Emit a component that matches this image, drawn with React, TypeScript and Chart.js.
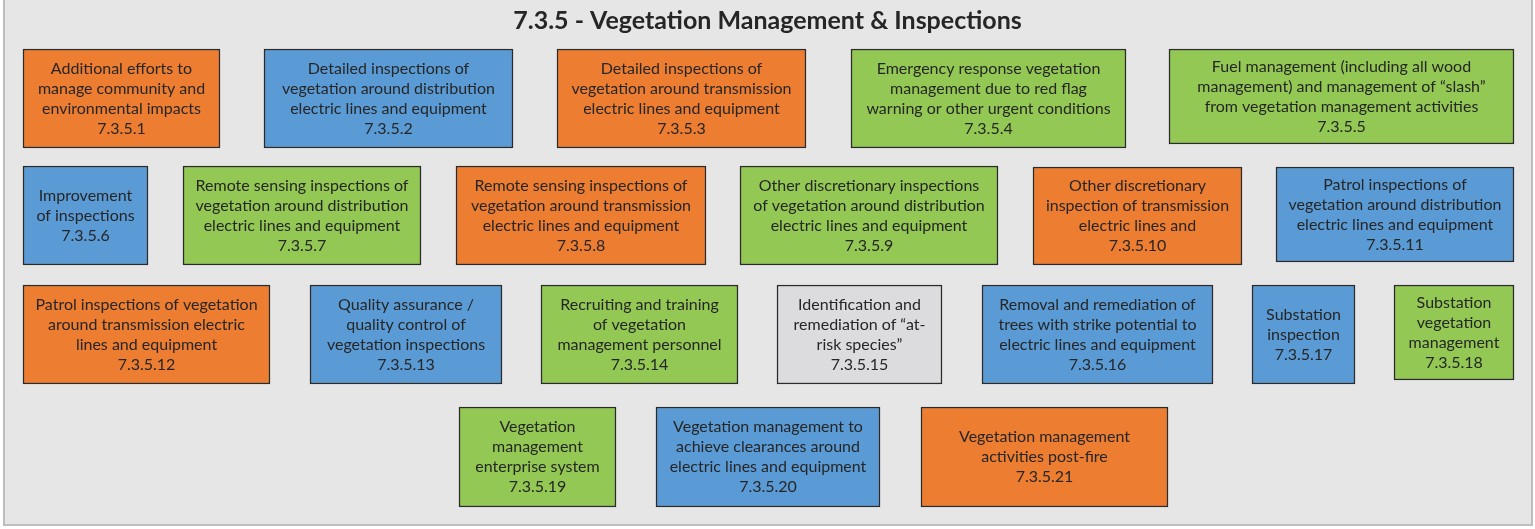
import React, { useEffect, useRef } from "react";
import { Chart, registerables } from "chart.js";

Chart.register(...registerables);

const chartTitle = "7.3.5 - Vegetation Management & Inspections";

const boxLabels: string[] = [
  "Additional efforts to\nmanage community and\nenvironmental impacts",
  "Detailed inspections of\nvegetation around distribution\nelectric lines and equipment",
  "Detailed inspections of\nvegetation around transmission\nelectric lines and equipment",
  "Emergency response vegetation\nmanagement due to red flag\nwarning or other urgent conditions",
  "Fuel management (including all wood\nmanagement) and management of \u201cslash\u201d\nfrom vegetation management activities",
  "Improvement\nof inspections",
  "Remote sensing inspections of\nvegetation around distribution\nelectric lines and equipment",
  "Remote sensing inspections of\nvegetation around transmission\nelectric lines and equipment",
  "Other discretionary inspections\nof vegetation around distribution\nelectric lines and equipment",
  "Other discretionary\ninspection of transmission\nelectric lines and",
  "Patrol inspections of\nvegetation around distribution\nelectric lines and equipment",
  "Patrol inspections of vegetation\naround transmission electric\nlines and equipment",
  "Quality assurance /\nquality control of\nvegetation inspections",
  "Recruiting and training\nof vegetation\nmanagement personnel",
  "Identification and\nremediation of \u201cat-\nrisk species\u201d",
  "Removal and remediation of\ntrees with strike potential to\nelectric lines and equipment",
  "Substation\ninspection",
  "Substation\nvegetation\nmanagement",
  "Vegetation\nmanagement\nenterprise system",
  "Vegetation management to\nachieve clearances around\nelectric lines and equipment",
  "Vegetation management\nactivities post-fire",
];

const boxCodes: string[] = [
  "7.3.5.1", "7.3.5.2", "7.3.5.3", "7.3.5.4", "7.3.5.5", "7.3.5.6", "7.3.5.7",
  "7.3.5.8", "7.3.5.9", "7.3.5.10", "7.3.5.11", "7.3.5.12", "7.3.5.13", "7.3.5.14",
  "7.3.5.15", "7.3.5.16", "7.3.5.17", "7.3.5.18", "7.3.5.19", "7.3.5.20", "7.3.5.21",
];

// category of each box: T = transmission (orange), D = distribution (blue), G = general (green), N = not applicable (gray)
const boxGroups: string[] = [
  "T", "D", "T", "G", "G", "D", "G", "T", "G", "T", "D",
  "T", "D", "G", "N", "D", "D", "G", "G", "D", "T",
];

// horizontal extent of each box on the diagram's x axis
const boxStart: number[] = [23, 264, 557, 851, 1169, 23, 183, 456, 740, 1033, 1276, 23, 310, 541, 777, 982, 1252, 1394, 459, 656, 921];
const boxEnd: number[] = [220, 513, 806, 1126, 1514, 148, 421, 706, 998, 1242, 1514, 270, 502, 738, 942, 1213, 1355, 1514, 616, 880, 1168];
// vertical extent of each box on the diagram's y axis
const boxTop: number[] = [49, 49, 49, 49, 49, 166, 166, 166, 166, 167, 167, 285, 285, 285, 285, 285, 285, 285, 407, 407, 407];
const boxBottom: number[] = [148, 148, 148, 148, 144, 265, 265, 265, 265, 265, 262, 384, 384, 384, 384, 384, 384, 380, 507, 507, 507];

const groupColors: Record<string, string> = {
  T: "#ED7D31",
  D: "#5B9BD5",
  G: "#92C853",
  N: "#DCDCDE",
};

const FONT = "Lato, 'Open Sans', sans-serif";

export default function App() {
  const canvasRef = useRef<HTMLCanvasElement | null>(null);

  useEffect(() => {
    document.body.style.margin = "0";
    const canvas = canvasRef.current;
    if (!canvas) return;

    const datasets = boxLabels.map((label, i) => ({
      label: boxCodes[i],
      data: [{ x: [boxStart[i], boxEnd[i]], y: (boxTop[i] + boxBottom[i]) / 2 }],
      barThickness: boxBottom[i] - boxTop[i],
      grouped: false,
      backgroundColor: groupColors[boxGroups[i]],
      borderColor: "#2b2b2b",
      borderWidth: 1.5,
      borderSkipped: false,
    }));

    const panelPlugin = {
      id: "panel",
      beforeDraw(chart: any) {
        const { ctx } = chart;
        const xs = chart.scales.x;
        const ys = chart.scales.y;
        const l = xs.getPixelForValue(4);
        const r = xs.getPixelForValue(1532);
        const t = ys.getPixelForValue(0);
        const b = ys.getPixelForValue(525);
        ctx.save();
        ctx.fillStyle = "#ffffff";
        ctx.fillRect(0, 0, chart.width, chart.height);
        ctx.fillStyle = "#E6E6E6";
        ctx.fillRect(l, t, r - l, b - t);
        ctx.strokeStyle = "#BEBEBE";
        ctx.lineWidth = 2;
        ctx.beginPath();
        ctx.moveTo(l, t);
        ctx.lineTo(l, b);
        ctx.lineTo(r, b);
        ctx.lineTo(r, t);
        ctx.stroke();
        ctx.restore();
      },
    };

    const textPlugin = {
      id: "boxText",
      afterDatasetsDraw(chart: any) {
        const { ctx } = chart;
        ctx.save();
        // title
        ctx.fillStyle = "#262626";
        ctx.font = `bold 25px ${FONT}`;
        ctx.textAlign = "center";
        ctx.textBaseline = "middle";
        const cx = (chart.chartArea.left + chart.chartArea.right) / 2;
        ctx.fillText(chartTitle, cx, chart.scales.y.getPixelForValue(21));
        // box texts
        ctx.font = `16px ${FONT}`;
        const lineH = 20;
        chart.data.datasets.forEach((_ds: any, i: number) => {
          const meta = chart.getDatasetMeta(i);
          const el = meta.data[0];
          if (!el) return;
          const p = el.getProps(["x", "y", "base"], true);
          const mx = (p.x + p.base) / 2;
          const lines = boxLabels[i].split("\n").concat([boxCodes[i]]);
          const y0 = p.y - ((lines.length - 1) * lineH) / 2;
          lines.forEach((ln, k) => ctx.fillText(ln, mx, y0 + k * lineH));
        });
        ctx.restore();
      },
    };

    const chart = new Chart(canvas, {
      type: "bar",
      data: { datasets: datasets as any },
      options: {
        indexAxis: "y",
        animation: false,
        responsive: true,
        maintainAspectRatio: false,
        layout: { padding: 0 },
        scales: {
          x: { type: "linear", min: 0, max: 1535, display: false, offset: false },
          y: { type: "linear", min: 0, max: 529, reverse: true, display: false, offset: false },
        },
        plugins: {
          legend: { display: false },
          tooltip: { enabled: false },
          title: { display: false },
        },
      },
      plugins: [panelPlugin, textPlugin],
    });

    return () => chart.destroy();
  }, []);

  return (
    <div style={{ position: "relative", width: "1535px", height: "529px" }}>
      <canvas ref={canvasRef} />
    </div>
  );
}
